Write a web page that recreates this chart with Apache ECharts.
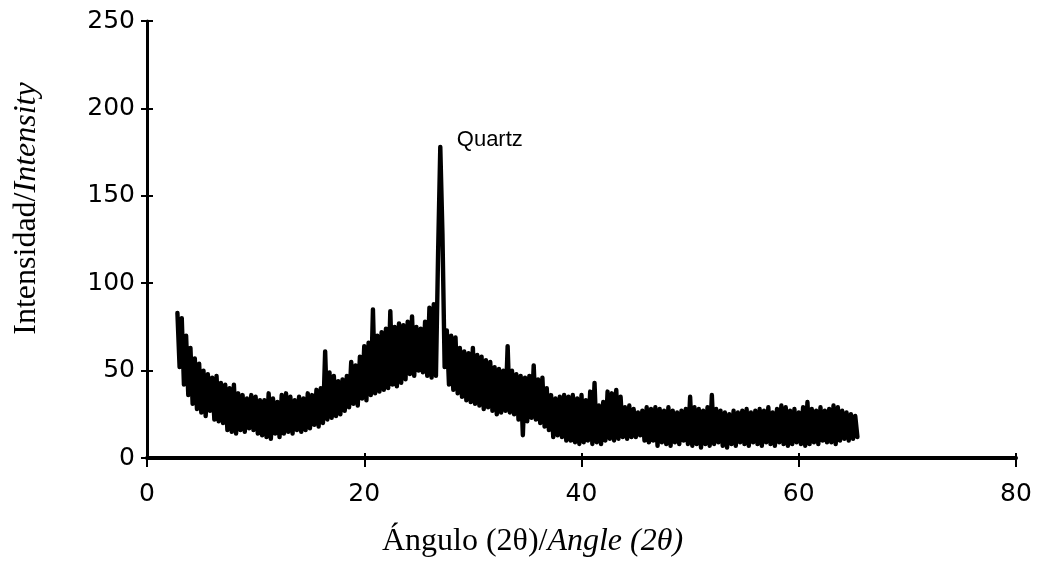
<!DOCTYPE html>
<html>
<head>
<meta charset="utf-8">
<title>XRD</title>
<script src="https://cdn.jsdelivr.net/npm/echarts@6/dist/echarts.min.js"></script>
<style>
  html, body { margin: 0; padding: 0; background: #fff; }
  #chart { width: 1037px; height: 563px; }
</style>
</head>
<body>
<div id="chart"></div>
<script>
// scan grid (2θ)
const angleStart = 2.8;
const angleStep = 0.2;

// intensity, one row per 2 degrees
const intensity = [
  83, 52, 80, 42, 70, 36, 63, 31, 57, 28,
  54, 26, 50, 24, 48, 27, 46, 22, 47, 21,
  43, 20, 42, 16, 40, 15, 42, 14, 37, 16,
  36, 15, 34, 17, 36, 16, 35, 14, 33, 13,
  33, 12, 37, 11, 34, 14, 32, 12, 36, 14,
  37, 15, 35, 14, 33, 16, 35, 15, 34, 16,
  37, 17, 36, 19, 39, 18, 40, 20, 61, 22,
  49, 23, 47, 24, 44, 25, 45, 27, 47, 29,
  55, 31, 53, 30, 58, 34, 64, 33, 66, 36,
  85, 37, 70, 38, 72, 39, 74, 40, 84, 42,
  75, 41, 77, 43, 76, 45, 78, 48, 81, 47,
  75, 50, 74, 49, 78, 47, 86, 46, 88, 47,
  118, 178, 128, 52, 73, 42, 70, 39, 69, 37,
  63, 35, 61, 33, 60, 32, 63, 31, 59, 30,
  58, 28, 56, 29, 55, 27, 52, 25, 51, 26,
  50, 27, 64, 26, 50, 25, 48, 22, 47, 13,
  46, 21, 47, 23, 53, 22, 45, 20, 46, 18,
  40, 16, 36, 12, 34, 13, 35, 12, 36, 10,
  35, 10, 36, 9, 34, 8, 36, 9, 33, 10,
  38, 8, 43, 9, 30, 8, 32, 10, 38, 11,
  37, 10, 39, 11, 35, 12, 29, 11, 30, 12,
  28, 12, 26, 13, 27, 10, 29, 9, 28, 10,
  29, 7, 28, 9, 27, 8, 29, 7, 27, 9,
  26, 8, 27, 10, 28, 8, 35, 7, 29, 8,
  28, 6, 27, 8, 29, 7, 36, 8, 28, 9,
  27, 7, 26, 6, 25, 8, 27, 7, 26, 9,
  27, 8, 28, 7, 26, 9, 27, 8, 28, 7,
  27, 9, 29, 8, 26, 7, 28, 9, 30, 8,
  29, 7, 27, 8, 28, 9, 26, 8, 29, 7,
  32, 8, 28, 9, 27, 8, 29, 10, 27, 9,
  28, 9, 30, 8, 29, 10, 27, 11, 26, 10,
  25, 11, 24, 12
];

const peakLabel = 'Quartz';
const peakAt = [27.0, 178];

const points = intensity.map((v, i) => [+(angleStart + i * angleStep).toFixed(1), v]);

const tickFont = { color: '#000', fontFamily: 'DejaVu Sans', fontSize: 25 };
const serif = 'Liberation Serif';
const nameRich = {
  a: { fontFamily: serif, fontSize: 32, color: '#000' },
  b: { fontFamily: serif, fontSize: 32, fontStyle: 'italic', color: '#000' }
};

const chart = echarts.init(document.getElementById('chart'));
chart.setOption({
  animation: false,
  grid: { left: 147, right: 21, top: 21, bottom: 102 },
  xAxis: [
    {
      type: 'value', min: 0, max: 80, interval: 20,
      name: '{a|Ángulo (2θ)/}{b|Angle (2θ)}',
      nameLocation: 'middle', nameGap: 68,
      nameTextStyle: { rich: nameRich, padding: [0, 98, 0, 0] },
      axisLine: { lineStyle: { color: '#000', width: 4 } },
      axisTick: { length: 9, lineStyle: { color: '#000', width: 2 } },
      axisLabel: Object.assign({ margin: 24 }, tickFont),
      splitLine: { show: false }
    },
    {
      type: 'value', min: 0, max: 80, interval: 20, position: 'bottom',
      axisLine: { show: false },
      axisTick: { inside: true, length: 5, lineStyle: { color: '#000', width: 2 } },
      axisLabel: { show: false },
      splitLine: { show: false }
    }
  ],
  yAxis: [
    {
      type: 'value', min: 0, max: 250, interval: 50,
      name: '{a|Intensidad/}{b|Intensity}',
      nameLocation: 'middle', nameGap: 104, nameRotate: 90,
      nameTextStyle: { rich: nameRich, padding: [0, 0, 0, 62] },
      axisLine: { show: true, lineStyle: { color: '#000', width: 3 } },
      axisTick: { show: true, length: 6, lineStyle: { color: '#000', width: 2 } },
      axisLabel: Object.assign({ margin: 12 }, tickFont),
      splitLine: { show: false }
    },
    {
      type: 'value', min: 0, max: 250, interval: 50, position: 'left',
      axisLine: { show: false },
      axisTick: { show: true, inside: true, length: 6, lineStyle: { color: '#000', width: 2 } },
      axisLabel: { show: false },
      splitLine: { show: false }
    }
  ],
  series: [
    {
      type: 'line',
      data: points,
      showSymbol: false,
      sampling: 'none',
      lineStyle: { color: '#000', width: 4.4, join: 'round', cap: 'round' },
      markPoint: {
        symbol: 'circle', symbolSize: 1,
        itemStyle: { color: 'rgba(0,0,0,0)' },
        label: {
          show: true, position: 'right', distance: 16, offset: [0, -7],
          color: '#000', fontFamily: 'Liberation Sans', fontSize: 22
        },
        data: [{ coord: peakAt, value: peakLabel }]
      }
    }
  ]
});
</script>
</body>
</html>
